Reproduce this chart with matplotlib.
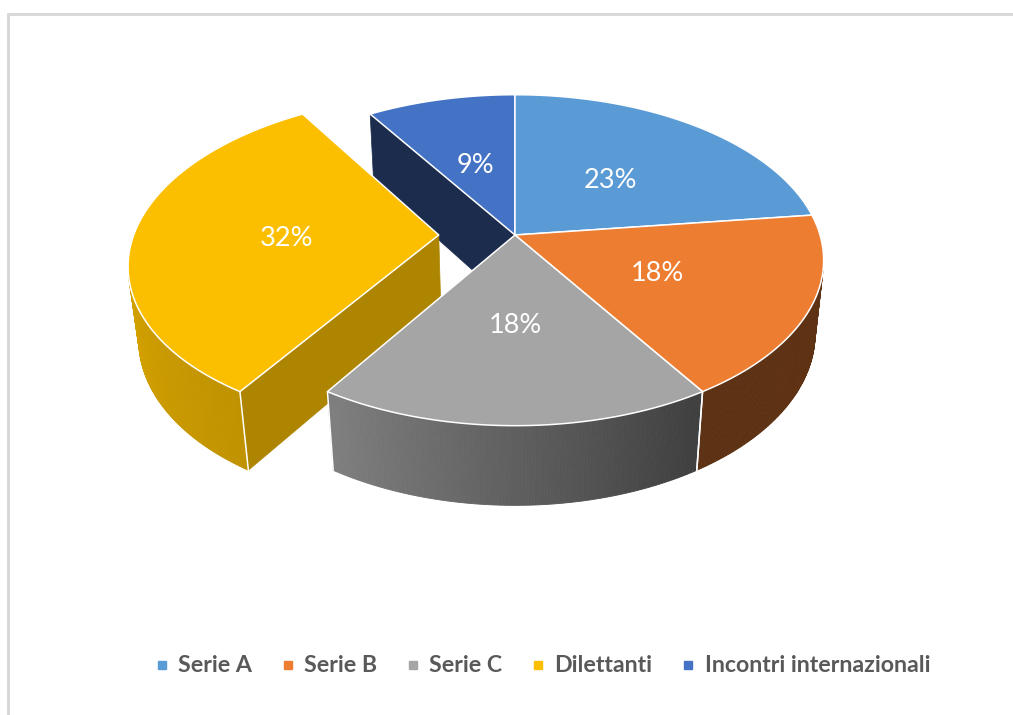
import numpy as np
import matplotlib
matplotlib.use("Agg")
import matplotlib.pyplot as plt
from matplotlib.patches import Polygon
from matplotlib.lines import Line2D
from matplotlib.colors import to_rgb

# ---- data -------------------------------------------------------------
categories = ["Serie A", "Serie B", "Serie C", "Dilettanti", "Incontri internazionali"]
shares = [23, 18, 18, 32, 9]
explode = [0, 0, 0, 0.25, 0]

# ---- styles -----------------------------------------------------------
top_colors = ["#5b9bd5", "#ed7d31", "#a5a5a5", "#fbbf00", "#4472c4"]
cut_colors = ["#2e4e6b", "#5e3116", "#404040", "#ae8500", "#1b2c4d"]
label_font = ["Lato", "DejaVu Sans"]

W, H = 1013, 715
fig = plt.figure(figsize=(W / 100, H / 100), dpi=100)
ax = fig.add_axes([0, 0, 1, 1])
ax.set_xlim(0, W)
ax.set_ylim(H, 0)
ax.axis("off")

# chart-area frame (only top and left edges fall inside the canvas)
ax.plot([7.5, 7.5, W + 20], [H + 20, 13.5, 13.5], color="#d6d6d6", lw=2.0,
        solid_joinstyle="miter", zorder=0, clip_on=True)

# ---- perspective camera for the 3-D pie -------------------------------
tilt = np.radians(32)
s, c = np.sin(tilt), np.cos(tilt)
dist = 5.57          # camera distance, in pie radii
focal = 1699         # pixels per radius at unit depth
cx, cy = 515, 235    # where the pie centre lands on screen
thick = 0.29         # pie height, in radii
cam = np.array([0.0, -dist * c, dist * s])


def project(X, Y, Z):
    X, Y, Z = (np.asarray(a, dtype=float) for a in (X, Y, Z))
    v = Y * s + Z * c
    w = dist + Y * c - Z * s
    return cx + focal * X / w, cy - focal * v / w


def wall_shade(phi):
    # side-wall lighting as a function of the wall's facing angle
    return np.interp(phi, [100, 150, 210, 270, 360], [0.40, 0.39, 0.76, 0.87, 0.87])


def shade(color, k):
    return tuple(np.clip(np.array(to_rgb(color)) * k, 0, 1))


total = float(sum(shares))
bounds = np.concatenate([[0.0], np.cumsum(shares)]) / total * 360.0
n = len(shares)

slices = []
for i in range(n):
    a0, a1 = bounds[i], bounds[i + 1]
    mid = np.radians((a0 + a1) / 2)
    off = np.array([np.sin(mid), np.cos(mid), 0.0]) * explode[i]
    depth = 0.5 * np.cos(mid) + off[1]
    slices.append((depth, i, a0, a1, off))

# far slices first
slices.sort(key=lambda t: -t[0])

edge_kw = dict(color="white", lw=1.1, solid_capstyle="round", solid_joinstyle="round")

for depth, i, a0, a1, off in slices:
    base = top_colors[i]

    # radial cut faces, exposed when this slice or its neighbour is pulled out
    for b, sign, nb in ((a0, -1, (i - 1) % n), (a1, 1, (i + 1) % n)):
        if explode[i] == 0 and explode[nb] == 0:
            continue
        nrm_ang = np.radians(b + sign * 90)
        nrm = np.array([np.sin(nrm_ang), np.cos(nrm_ang), 0.0])
        if nrm @ (cam - off) <= 0:
            continue
        rx, ry = off[0] + np.sin(np.radians(b)), off[1] + np.cos(np.radians(b))
        X = [off[0], rx, rx, off[0]]
        Y = [off[1], ry, ry, off[1]]
        Z = [0, 0, -thick, -thick]
        px, py = project(X, Y, Z)
        ax.add_patch(Polygon(np.column_stack([px, py]), closed=True,
                             facecolor=cut_colors[i], edgecolor=cut_colors[i],
                             lw=0.5, zorder=1))

    # outer curved wall, split into thin quads and back-face culled
    phis = np.linspace(a0, a1, max(int((a1 - a0) * 2), 4) + 1)
    vis_ends = []
    for k in range(len(phis) - 1):
        pm = np.radians((phis[k] + phis[k + 1]) / 2)
        nrm = np.array([np.sin(pm), np.cos(pm), 0.0])
        p = off + nrm
        if nrm @ (cam - p) <= 0:
            continue
        t = np.radians(phis[k:k + 2])
        X = off[0] + np.concatenate([np.sin(t), np.sin(t[::-1])])
        Y = off[1] + np.concatenate([np.cos(t), np.cos(t[::-1])])
        Z = [0, 0, -thick, -thick]
        px, py = project(X, Y, Z)
        col = shade(base, wall_shade(np.degrees(pm)))
        ax.add_patch(Polygon(np.column_stack([px, py]), closed=True,
                             facecolor=col, edgecolor=col, lw=0.6, zorder=1))
        if k == 0:
            vis_ends.append(a0)
        if k == len(phis) - 2:
            vis_ends.append(a1)

    # white corner lines where a visible wall ends at a slice boundary
    for b in vis_ends:
        rb = np.radians(b)
        px, py = project([off[0] + np.sin(rb)] * 2, [off[1] + np.cos(rb)] * 2, [0, -thick])
        ax.plot(px, py, zorder=2, **edge_kw)

    # top face
    t = np.radians(np.linspace(a0, a1, 200))
    X = np.concatenate([[off[0]], off[0] + np.sin(t)])
    Y = np.concatenate([[off[1]], off[1] + np.cos(t)])
    px, py = project(X, Y, np.zeros_like(X))
    ax.add_patch(Polygon(np.column_stack([px, py]), closed=True, facecolor=base,
                         edgecolor="white", lw=1.1, joinstyle="round", zorder=2))

    # percentage label on the top face
    mid = np.radians((a0 + a1) / 2)
    lx, ly = project(off[0] + 0.5 * np.sin(mid), off[1] + 0.5 * np.cos(mid), 0.0)
    ax.text(float(lx), float(ly) + 3, f"{shares[i] / total:.0%}", ha="center",
            va="center", color="white", fontsize=19.5, family=label_font, zorder=3)

# ---- legend -----------------------------------------------------------
handles = [Line2D([], [], marker="s", linestyle="none", markersize=6,
                  markerfacecolor=col, markeredgecolor=col) for col in top_colors]
fig.legend(handles, categories, loc="center", bbox_to_anchor=(543 / W, 1 - 666 / H),
           ncol=5, frameon=False, prop=dict(family=label_font, size=16.7, weight="bold"),
           labelcolor="#595959", handlelength=0.5, handleheight=0.5,
           handletextpad=0.45, columnspacing=1.3)

fig.savefig("out.png", dpi=100)
